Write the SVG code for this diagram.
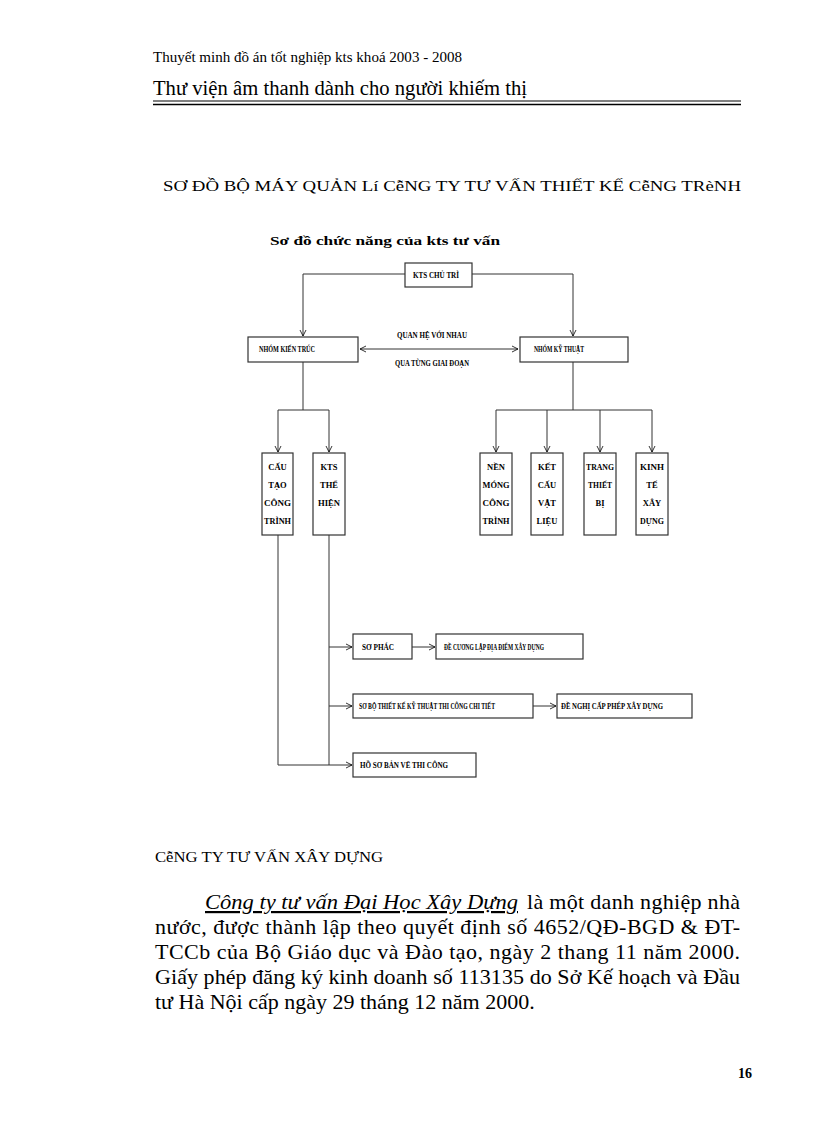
<svg xmlns="http://www.w3.org/2000/svg" width="816" height="1123" viewBox="0 0 816 1123">
<defs>
<marker id="ah" markerWidth="8" markerHeight="8" refX="7" refY="4" orient="auto" markerUnits="userSpaceOnUse">
<path d="M1,1 L7,4 L1,7" fill="none" stroke="#000" stroke-width="0.8"/>
</marker>
<marker id="ahs" markerWidth="8" markerHeight="8" refX="1" refY="4" orient="auto" markerUnits="userSpaceOnUse">
<path d="M7,1 L1,4 L7,7" fill="none" stroke="#000" stroke-width="0.8"/>
</marker>
</defs>
<style>
.serif{font-family:"Liberation Serif","Times New Roman",serif;fill:#000}
.box{fill:#fff;stroke:#333;stroke-width:1.2}
.lbl{font-family:"Liberation Serif","Times New Roman",serif;font-weight:bold;font-size:8.5px;fill:#000}
.conn{fill:none;stroke:#333;stroke-width:1}
</style>
<rect width="816" height="1123" fill="#fff"/>
<text class="serif" x="153" y="62" font-size="14" textLength="309" lengthAdjust="spacingAndGlyphs">Thuyết minh đồ án tốt nghiệp kts khoá 2003 - 2008</text>
<text class="serif" x="153" y="95" font-size="20" textLength="374" lengthAdjust="spacingAndGlyphs">Thư viện âm thanh dành cho người khiếm thị</text>
<line x1="153" y1="101" x2="741" y2="101" stroke="#000" stroke-width="1"/>
<line x1="153" y1="104.5" x2="741" y2="104.5" stroke="#000" stroke-width="1.5"/>
<text class="serif" x="163" y="191" font-size="14" textLength="578" lengthAdjust="spacingAndGlyphs">SƠ ĐỒ BỘ MÁY QUẢN Lí CễNG TY TƯ VẤN THIẾT KẾ CễNG TRèNH</text>
<text class="serif" x="270" y="245" font-size="13" font-weight="bold" textLength="230" lengthAdjust="spacingAndGlyphs">Sơ đồ chức năng của kts tư vấn</text>

<g id="connectors">
<polyline class="conn" points="405,274 303,274 303,336" marker-end="url(#ah)"/>
<polyline class="conn" points="472,274 573,274 573,336" marker-end="url(#ah)"/>
<line class="conn" x1="360" y1="349" x2="518" y2="349" marker-start="url(#ahs)" marker-end="url(#ah)"/>
<line class="conn" x1="303" y1="362" x2="303" y2="410"/>
<line class="conn" x1="278" y1="410" x2="329" y2="410"/>
<line class="conn" x1="278" y1="410" x2="278" y2="452" marker-end="url(#ah)"/>
<line class="conn" x1="329" y1="410" x2="329" y2="452" marker-end="url(#ah)"/>
<line class="conn" x1="573" y1="362" x2="573" y2="410"/>
<line class="conn" x1="496" y1="410" x2="652" y2="410"/>
<line class="conn" x1="496" y1="410" x2="496" y2="452" marker-end="url(#ah)"/>
<line class="conn" x1="547" y1="410" x2="547" y2="452" marker-end="url(#ah)"/>
<line class="conn" x1="600" y1="410" x2="600" y2="452" marker-end="url(#ah)"/>
<line class="conn" x1="652" y1="410" x2="652" y2="452" marker-end="url(#ah)"/>
<polyline class="conn" points="278,535 278,765 352,765" marker-end="url(#ah)"/>
<line class="conn" x1="329" y1="535" x2="329" y2="765"/>
<line class="conn" x1="329" y1="647" x2="352" y2="647" marker-end="url(#ah)"/>
<line class="conn" x1="329" y1="706" x2="352" y2="706" marker-end="url(#ah)"/>
<line class="conn" x1="412" y1="647" x2="435" y2="647" marker-end="url(#ah)"/>
<line class="conn" x1="533" y1="706" x2="556" y2="706" marker-end="url(#ah)"/>
</g>

<g id="n-ktschutri"><rect class="box" x="405" y="263" width="67" height="24"/><text class="lbl" x="413" y="278" textLength="46" lengthAdjust="spacingAndGlyphs">KTS CHỦ TRÌ</text></g>
<g id="n-kientruc"><rect class="box" x="248" y="337" width="110" height="25"/><text class="lbl" x="259" y="352" textLength="56" lengthAdjust="spacingAndGlyphs">NHÓM KIẾN TRÚC</text></g>
<g id="n-kythuat"><rect class="box" x="520" y="337" width="108" height="25"/><text class="lbl" x="534" y="352" textLength="50" lengthAdjust="spacingAndGlyphs">NHÓM KỸ THUẬT</text></g>
<g id="lbl-quanhe">
<text class="lbl" x="397" y="338" textLength="70" lengthAdjust="spacingAndGlyphs">QUAN HỆ VỚI NHAU</text>
<text class="lbl" x="395" y="366" textLength="74" lengthAdjust="spacingAndGlyphs">QUA TỪNG GIAI ĐOẠN</text>
</g>

<g id="n-cautao"><rect class="box" x="262" y="453" width="31" height="82"/>
<text class="lbl" text-anchor="middle" x="277.5" y="470">CẤU</text><text class="lbl" text-anchor="middle" x="277.5" y="488">TẠO</text><text class="lbl" text-anchor="middle" x="277.5" y="506" textLength="27" lengthAdjust="spacingAndGlyphs">CÔNG</text><text class="lbl" text-anchor="middle" x="277.5" y="524" textLength="27" lengthAdjust="spacingAndGlyphs">TRÌNH</text></g>
<g id="n-thehien"><rect class="box" x="313" y="453" width="32" height="82"/>
<text class="lbl" text-anchor="middle" x="329" y="470">KTS</text><text class="lbl" text-anchor="middle" x="329" y="488">THỂ</text><text class="lbl" text-anchor="middle" x="329" y="506" textLength="22" lengthAdjust="spacingAndGlyphs">HIỆN</text></g>
<g id="n-nenmong"><rect class="box" x="480" y="453" width="32" height="82"/>
<text class="lbl" text-anchor="middle" x="496" y="470">NỀN</text><text class="lbl" text-anchor="middle" x="496" y="488" textLength="27" lengthAdjust="spacingAndGlyphs">MÓNG</text><text class="lbl" text-anchor="middle" x="496" y="506" textLength="27" lengthAdjust="spacingAndGlyphs">CÔNG</text><text class="lbl" text-anchor="middle" x="496" y="524" textLength="27" lengthAdjust="spacingAndGlyphs">TRÌNH</text></g>
<g id="n-ketcau"><rect class="box" x="531" y="453" width="32" height="82"/>
<text class="lbl" text-anchor="middle" x="547" y="470">KẾT</text><text class="lbl" text-anchor="middle" x="547" y="488">CẤU</text><text class="lbl" text-anchor="middle" x="547" y="506">VẬT</text><text class="lbl" text-anchor="middle" x="547" y="524">LIỆU</text></g>
<g id="n-thietbi"><rect class="box" x="584" y="453" width="32" height="82"/>
<text class="lbl" text-anchor="middle" x="600" y="470" textLength="28" lengthAdjust="spacingAndGlyphs">TRANG</text><text class="lbl" text-anchor="middle" x="600" y="488" textLength="24" lengthAdjust="spacingAndGlyphs">THIẾT</text><text class="lbl" text-anchor="middle" x="600" y="506">BỊ</text></g>
<g id="n-kinhte"><rect class="box" x="636" y="453" width="32" height="82"/>
<text class="lbl" text-anchor="middle" x="652" y="470" textLength="24" lengthAdjust="spacingAndGlyphs">KINH</text><text class="lbl" text-anchor="middle" x="652" y="488">TẾ</text><text class="lbl" text-anchor="middle" x="652" y="506">XÂY</text><text class="lbl" text-anchor="middle" x="652" y="524" textLength="24" lengthAdjust="spacingAndGlyphs">DỰNG</text></g>

<g id="n-sophac"><rect class="box" x="353" y="634" width="59" height="25"/><text class="lbl" x="362" y="650" textLength="32" lengthAdjust="spacingAndGlyphs">SƠ PHÁC</text></g>
<g id="n-diadiem"><rect class="box" x="436" y="634" width="147" height="25"/><text class="lbl" x="444" y="650" textLength="100" lengthAdjust="spacingAndGlyphs">ĐỀ CƯƠNG LẬP ĐỊA ĐIỂM XÂY DỰNG</text></g>
<g id="n-thietkekythuat"><rect class="box" x="353" y="694" width="180" height="24"/><text class="lbl" x="359" y="709" textLength="136" lengthAdjust="spacingAndGlyphs">SƠ BỘ THIẾT KẾ KỸ THUẬT THI CÔNG CHI TIẾT</text></g>
<g id="n-capphep"><rect class="box" x="557" y="694" width="135" height="24"/><text class="lbl" x="561" y="709" textLength="102" lengthAdjust="spacingAndGlyphs">ĐỀ NGHỊ CẤP PHÉP XÂY DỰNG</text></g>
<g id="n-banve"><rect class="box" x="353" y="753" width="123" height="24"/><text class="lbl" x="360" y="768" textLength="88" lengthAdjust="spacingAndGlyphs">HỒ SƠ BẢN VẼ THI CÔNG</text></g>

<text class="serif" x="155" y="862" font-size="14" textLength="228" lengthAdjust="spacingAndGlyphs">CễNG TY TƯ VẤN XÂY DỰNG</text>
<g class="serif" font-size="22">
<text x="205" y="909" font-style="italic" text-decoration="underline" textLength="313" lengthAdjust="spacingAndGlyphs">Công ty tư vấn Đại Học Xây Dựng</text>
<text x="527" y="909" textLength="213" lengthAdjust="spacing">là một danh nghiệp nhà</text>
<text x="155" y="934" textLength="585" lengthAdjust="spacing">nước, được thành lập theo quyết  định số 4652/QĐ-BGD &amp; ĐT-</text>
<text x="155" y="959" textLength="585" lengthAdjust="spacing">TCCb của Bộ Giáo dục và Đào tạo, ngày  2 thang 11 năm 2000.</text>
<text x="155" y="984" textLength="585" lengthAdjust="spacing">Giấy phép đăng ký kinh doanh số 113135 do Sở Kế hoạch và Đầu</text>
<text x="155" y="1009">tư Hà Nội cấp ngày  29 tháng 12 năm 2000.</text>
</g>
<text class="serif" x="738" y="1078" font-size="14" font-weight="bold">16</text>
</svg>
